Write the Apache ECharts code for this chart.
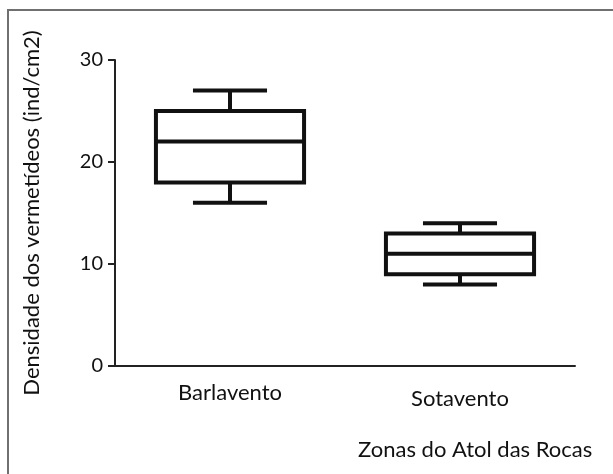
<!DOCTYPE html>
<html>
<head>
<meta charset="utf-8">
<script src="https://cdn.jsdelivr.net/npm/echarts@6/dist/echarts.min.js"></script>
<style>html,body{margin:0;padding:0;background:#fff;}#c{width:613px;height:474px;}</style>
</head>
<body>
<div id="c"></div>
<script>
// Data
const categories = ['Barlavento', 'Sotavento'];
const minValues = [16, 8];
const q1Values = [18, 9];
const medianValues = [22, 11];
const q3Values = [25, 13];
const maxValues = [27, 14];
const yTicks = [0, 10, 20, 30];
const yAxisTitle = 'Densidade dos vermetídeos (ind/cm2)';
const xAxisTitle = 'Zonas do Atol das Rocas';

const FONT = 'Lato';
const INK = '#111';
const seriesData = categories.map(function (c, i) {
  return [i, minValues[i], q1Values[i], medianValues[i], q3Values[i], maxValues[i]];
});

function renderBox(params, api) {
  const x = api.value(0);
  const band = api.size([1, 0])[0];
  const half = band * 0.322;
  const capHalf = half * 0.5;
  const pMin = api.coord([x, api.value(1)]);
  const pQ1 = api.coord([x, api.value(2)]);
  const pMed = api.coord([x, api.value(3)]);
  const pQ3 = api.coord([x, api.value(4)]);
  const pMax = api.coord([x, api.value(5)]);
  const cx = pMed[0];
  const st = {stroke: INK, lineWidth: 4, fill: 'none'};
  return {
    type: 'group',
    children: [
      {type: 'line', shape: {x1: cx, y1: pQ3[1], x2: cx, y2: pMax[1]}, style: st},
      {type: 'line', shape: {x1: cx, y1: pQ1[1], x2: cx, y2: pMin[1]}, style: st},
      {type: 'line', shape: {x1: cx - capHalf, y1: pMax[1], x2: cx + capHalf, y2: pMax[1]}, style: st},
      {type: 'line', shape: {x1: cx - capHalf, y1: pMin[1], x2: cx + capHalf, y2: pMin[1]}, style: st},
      {type: 'rect', shape: {x: cx - half, y: pQ3[1], width: half * 2, height: pQ1[1] - pQ3[1]},
       style: {stroke: INK, lineWidth: 4, fill: '#fff'}},
      {type: 'line', shape: {x1: cx - half, y1: pMed[1], x2: cx + half, y2: pMed[1]}, style: st}
    ]
  };
}

const chart = echarts.init(document.getElementById('c'), null, {renderer: 'canvas'});
chart.setOption({
  animation: false,
  backgroundColor: '#fff',
  grid: {left: 115, right: 38, top: 60, bottom: 108},
  graphic: [
    {type: 'rect', shape: {x: 8, y: 10, width: 640, height: 500},
     style: {fill: 'none', stroke: '#707070', lineWidth: 2}, silent: true},
    {type: 'text', left: 358, top: 439,
     style: {text: xAxisTitle, font: '22px ' + FONT, fill: '#111'}}
  ],
  xAxis: {
    type: 'category',
    data: categories,
    axisLine: {lineStyle: {color: '#222', width: 2}},
    axisTick: {alignWithLabel: true, length: 7, lineStyle: {color: '#222', width: 2}},
    axisLabel: {
      margin: 16,
      formatter: function (v, i) { return i === 1 ? '{b|' + v + '}' : '{a|' + v + '}'; },
      rich: {
        a: {fontFamily: FONT, fontSize: 22, color: '#111'},
        b: {fontFamily: FONT, fontSize: 22, color: '#111', padding: [6, 0, 0, 0]}
      }
    },
    splitLine: {show: false}
  },
  yAxis: {
    type: 'value',
    min: yTicks[0], max: yTicks[yTicks.length - 1], interval: 10,
    name: yAxisTitle,
    nameLocation: 'middle',
    nameGap: 72,
    nameTextStyle: {fontFamily: FONT, fontSize: 22, color: '#111'},
    axisLine: {show: true, lineStyle: {color: '#222', width: 2}},
    axisTick: {show: true, length: 7, lineStyle: {color: '#222', width: 2}},
    axisLabel: {margin: 12, fontFamily: FONT, fontSize: 20, color: '#111'},
    splitLine: {show: false}
  },
  series: [{
    type: 'custom',
    renderItem: renderBox,
    encode: {x: 0, y: [1, 2, 3, 4, 5]},
    data: seriesData
  }]
});
</script>
</body>
</html>
